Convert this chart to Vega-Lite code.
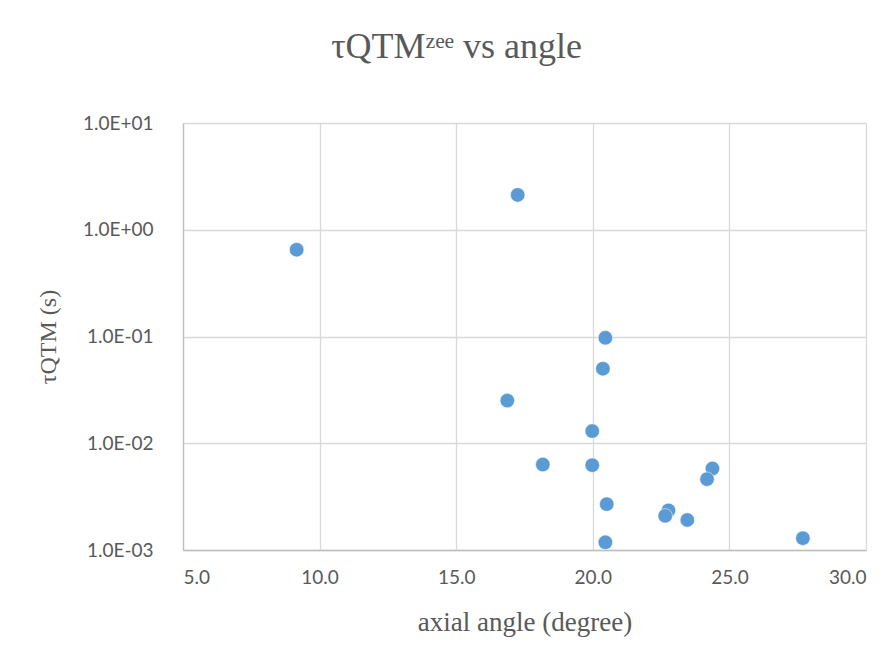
{
  "$schema": "https://vega.github.io/schema/vega-lite/v6.json",
  "width": 683,
  "height": 427,
  "autosize": {"type": "none"},
  "padding": {"left": 183, "top": 123, "right": 28, "bottom": 114},
  "background": "white",
  "title": {
    "text": "τQTMᶻᵉᵉ vs angle",
    "font": "Liberation Serif",
    "fontSize": 36,
    "fontWeight": "normal",
    "color": "#595959",
    "anchor": "middle",
    "frame": "group",
    "dx": -68,
    "offset": 48
  },
  "data": {
    "values": [
      {"angle": 9.16, "tau": 0.65},
      {"angle": 17.25, "tau": 2.12},
      {"angle": 20.46, "tau": 0.0973},
      {"angle": 20.37, "tau": 0.0499},
      {"angle": 16.87, "tau": 0.0251},
      {"angle": 19.98, "tau": 0.0130},
      {"angle": 18.17, "tau": 0.00632},
      {"angle": 19.98, "tau": 0.00623},
      {"angle": 24.38, "tau": 0.00580},
      {"angle": 24.18, "tau": 0.00461},
      {"angle": 20.51, "tau": 0.00269},
      {"angle": 22.77, "tau": 0.00235},
      {"angle": 22.65, "tau": 0.00209},
      {"angle": 23.46, "tau": 0.00191},
      {"angle": 20.46, "tau": 0.00118},
      {"angle": 27.69, "tau": 0.00129}
    ]
  },
  "mark": {"type": "circle", "size": 210, "color": "#5b9bd5", "opacity": 1, "stroke": "white", "strokeWidth": 0.5},
  "encoding": {
    "x": {
      "field": "angle",
      "type": "quantitative",
      "scale": {"domain": [5, 30], "nice": false, "zero": false},
      "axis": {
        "title": "axial angle (degree)",
        "values": [5, 10, 15, 20, 25, 30],
        "format": ".1f",
        "labelPadding": 18,
        "titlePadding": 22
      }
    },
    "y": {
      "field": "tau",
      "type": "quantitative",
      "scale": {"type": "log", "domain": [0.001, 10], "nice": false},
      "axis": {
        "title": "τQTM (s)",
        "titleFontSize": 24,
        "values": [0.001, 0.01, 0.1, 1, 10],
        "labelExpr": "'1.0E' + (round(log(datum.value)/LN10) >= 0 ? '+' : '-') + '0' + abs(round(log(datum.value)/LN10))",
        "labelPadding": 30,
        "titlePadding": 22
      }
    }
  },
  "config": {
    "view": {"stroke": null},
    "axis": {
      "grid": true,
      "gridColor": "#d9d9d9",
      "gridWidth": 1.3,
      "domainColor": "#bfbfbf",
      "domainWidth": 1.3,
      "ticks": false,
      "labelFont": "Lato",
      "labelFontSize": 19,
      "labelColor": "#595959",
      "titleFont": "Liberation Serif",
      "titleFontSize": 27,
      "titleFontWeight": "normal",
      "titleColor": "#595959"
    }
  }
}
